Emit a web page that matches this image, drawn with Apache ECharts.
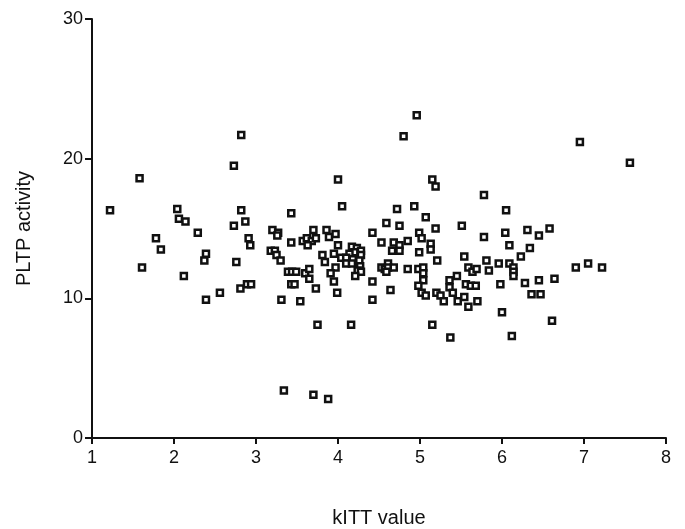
<!DOCTYPE html>
<html>
<head>
<meta charset="utf-8">
<script src="https://cdn.jsdelivr.net/npm/echarts@6/dist/echarts.min.js"></script>
<style>
  html, body { margin: 0; padding: 0; background: #fff; }
  #chart { width: 685px; height: 529px; }
</style>
</head>
<body>
<div id="chart"></div>
<script>
// kITT value (x) for each subject
const kittValues = [
  1.22, 1.58, 1.61, 1.78, 1.84, 2.04, 2.06, 2.14, 2.12, 2.29,
  2.37, 2.39, 2.39, 2.56, 2.73, 2.82, 2.73, 2.82, 2.87, 2.76,
  2.81, 2.91, 2.93, 2.89, 2.94, 3.20, 3.27, 3.26, 3.18, 3.23,
  3.25, 3.30, 3.43, 3.43, 3.31, 3.34, 3.39, 3.44, 3.49, 3.43,
  3.47, 3.54, 3.57, 3.62, 3.68, 3.73, 3.63, 3.70, 3.60, 3.65,
  3.65, 3.73, 3.75, 3.70, 3.81, 3.84, 3.86, 3.89, 3.97, 3.95,
  4.00, 3.97, 3.91, 3.95, 3.99, 3.88, 4.05, 4.00, 4.16, 4.17,
  4.23, 4.20, 4.14, 4.28, 4.28, 4.04, 4.10, 4.18, 4.26, 4.10,
  4.17, 4.27, 4.24, 4.28, 4.21, 4.42, 4.42, 4.42, 4.53, 4.59,
  4.68, 4.75, 4.72, 4.75, 4.85, 4.93, 4.99, 5.02, 5.07, 5.19,
  5.13, 5.13, 4.66, 4.75, 4.99, 5.15, 5.19, 4.96, 4.80, 5.21,
  4.61, 4.53, 4.57, 4.61, 4.68, 4.59, 4.85, 4.98, 5.04, 5.04,
  5.04, 4.98, 5.02, 5.07, 5.20, 5.25, 5.29, 4.64, 5.15, 5.37,
  5.36, 5.45, 5.36, 5.40, 5.51, 5.54, 5.59, 5.64, 5.69, 5.56,
  5.62, 5.68, 5.46, 5.54, 5.59, 5.70, 5.78, 5.78, 5.81, 5.84,
  5.96, 5.98, 6.00, 6.05, 6.04, 6.09, 6.09, 6.14, 6.14, 6.14,
  6.12, 6.23, 6.28, 6.31, 6.34, 6.36, 6.45, 6.45, 6.47, 6.58,
  6.61, 6.64, 6.90, 6.95, 7.05, 7.22, 7.56
];

// PLTP activity (y) for each subject, same order
const pltpValues = [
  16.3, 18.6, 12.2, 14.3, 13.5, 16.4, 15.7, 15.5, 11.6, 14.7,
  12.7, 13.2, 9.9, 10.4, 19.5, 21.7, 15.2, 16.3, 15.5, 12.6,
  10.7, 14.3, 13.8, 11.0, 11.0, 14.9, 14.7, 14.5, 13.4, 13.4,
  13.1, 12.7, 16.1, 14.0, 9.9, 3.4, 11.9, 11.9, 11.9, 11.0,
  11.0, 9.8, 14.1, 14.3, 14.1, 14.3, 13.8, 14.9, 11.8, 12.1,
  11.4, 10.7, 8.1, 3.1, 13.1, 12.6, 14.9, 14.4, 14.6, 13.2,
  13.8, 12.2, 11.8, 11.2, 10.4, 2.8, 16.6, 18.5, 8.1, 13.7,
  13.6, 13.3, 13.2, 13.4, 13.1, 12.9, 12.9, 12.8, 12.7, 12.5,
  12.5, 12.3, 12.0, 11.9, 11.6, 14.7, 11.2, 9.9, 14.0, 15.4,
  14.0, 13.8, 16.4, 15.2, 14.1, 16.6, 14.7, 14.3, 15.8, 15.0,
  13.9, 13.5, 13.4, 13.4, 13.3, 18.5, 18.0, 23.1, 21.6, 12.7,
  12.5, 12.2, 12.1, 12.2, 12.2, 11.9, 12.1, 12.1, 12.2, 11.8,
  11.3, 10.9, 10.4, 10.2, 10.4, 10.2, 9.8, 10.6, 8.1, 7.2,
  11.3, 11.6, 10.8, 10.4, 15.2, 13.0, 12.2, 11.9, 12.1, 11.0,
  10.9, 10.9, 9.8, 10.1, 9.4, 9.8, 17.4, 14.4, 12.7, 12.0,
  12.5, 11.0, 9.0, 16.3, 14.7, 13.8, 12.5, 12.2, 11.9, 11.6,
  7.3, 13.0, 11.1, 14.9, 13.6, 10.3, 14.5, 11.3, 10.3, 15.0,
  8.4, 11.4, 12.2, 21.2, 12.5, 12.2, 19.7
];

const xTicks = { min: 1, max: 8, step: 1 };
const yTicks = { min: 0, max: 30, step: 10 };

const points = kittValues.map((x, i) => [x, pltpValues[i]]);

const chart = echarts.init(document.getElementById('chart'));

const axisFont = 'Liberation Sans, Arial, sans-serif';

chart.setOption({
  animation: false,
  backgroundColor: '#fff',
  grid: {
    left: 92,
    right: 19,
    top: 19,
    bottom: 91,
    containLabel: false,
    outerBoundsMode: 'none'
  },
  xAxis: {
    type: 'value',
    min: xTicks.min,
    max: xTicks.max,
    interval: xTicks.step,
    name: 'kITT value',
    nameLocation: 'middle',
    nameGap: 70,
    nameTextStyle: { fontFamily: axisFont, fontSize: 20, color: '#111' },
    axisLine: { onZero: false, lineStyle: { color: '#111', width: 2 } },
    axisTick: { length: 6, lineStyle: { color: '#111', width: 2 } },
    axisLabel: { fontFamily: axisFont, fontSize: 18, color: '#111', margin: 11 },
    splitLine: { show: false }
  },
  yAxis: {
    type: 'value',
    min: yTicks.min,
    max: yTicks.max,
    interval: yTicks.step,
    name: 'PLTP activity',
    nameLocation: 'middle',
    nameGap: 58,
    nameTextStyle: { fontFamily: axisFont, fontSize: 20, color: '#111' },
    axisLine: { show: true, onZero: false, lineStyle: { color: '#111', width: 2 } },
    axisTick: { show: true, length: 7, lineStyle: { color: '#111', width: 2 } },
    axisLabel: { fontFamily: axisFont, fontSize: 18, color: '#111', margin: 9 },
    splitLine: { show: false }
  },
  series: [{
    type: 'scatter',
    data: points,
    symbol: 'rect',
    symbolSize: 6,
    itemStyle: {
      color: '#fff',
      borderColor: '#111',
      borderWidth: 2.5,
      opacity: 1
    }
  }]
});
</script>
</body>
</html>
